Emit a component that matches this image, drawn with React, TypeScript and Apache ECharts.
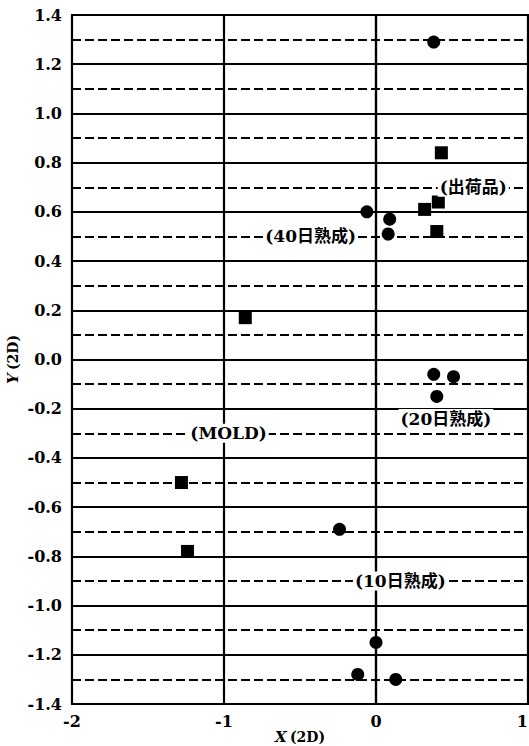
import React, { useEffect, useRef } from "react";
import * as echarts from "echarts";

const circlePoints: number[][] = [
  [0.38, 1.29],
  [-0.06, 0.6],
  [0.09, 0.57],
  [0.08, 0.51],
  [0.38, -0.06],
  [0.51, -0.07],
  [0.4, -0.15],
  [-0.24, -0.69],
  [0.0, -1.15],
  [-0.12, -1.28],
  [0.13, -1.3],
];

const squarePoints: number[][] = [
  [0.43, 0.84],
  [0.41, 0.64],
  [0.32, 0.61],
  [0.4, 0.52],
  [-0.86, 0.17],
  [-1.28, -0.5],
  [-1.24, -0.78],
];

const annotationTexts = ["(40日熟成)", "(出荷品)", "(20日熟成)", "(MOLD)", "(10日熟成)"];
const annotationX = [-0.43, 0.64, 0.46, -0.97, 0.16];
const annotationY = [0.5, 0.7, -0.24, -0.3, -0.9];

const xTicks = [-2, -1, 0, 1];
const yMin = -1.4;
const yMax = 1.4;
const yStep = 0.2;

const FONT = "'DejaVu Serif', 'Noto Sans CJK JP', serif";

export default function App() {
  const ref = useRef<HTMLDivElement>(null);
  useEffect(() => {
    document.body.style.margin = "0";
    if (!ref.current) return;
    const chart = echarts.init(ref.current, null, { renderer: "svg" });
    const labelData = annotationTexts.map((t, i) => ({
      name: t,
      value: [annotationX[i], annotationY[i]],
    }));
    chart.setOption({
      animation: false,
      backgroundColor: "#fff",
      grid: {
        left: 72,
        right: 1,
        top: 15,
        bottom: 42,
        show: true,
        borderColor: "#000",
        borderWidth: 2,
        containLabel: false,
        outerBoundsMode: "none",
      },
      xAxis: {
        type: "value",
        min: xTicks[0],
        max: xTicks[xTicks.length - 1],
        interval: 1,
        axisLine: { show: true, lineStyle: { color: "#000", width: 2.2 } },
        axisTick: { show: false },
        axisLabel: {
          color: "#000",
          fontFamily: FONT,
          fontWeight: "bold",
          fontSize: 16,
          margin: 9,
          alignMaxLabel: "right",
          formatter: (v: number) => String(v),
        },
        splitLine: { show: true, lineStyle: { color: "#000", width: 2.2, type: "solid" } },
        name: "{i|X} {n|(2D)}",
        nameLocation: "middle",
        nameGap: 25,
        nameMoveOverlap: false,
        nameTextStyle: {
          verticalAlign: "top",
          lineHeight: 15,
          rich: {
            i: { fontFamily: FONT, fontWeight: "bold", fontStyle: "italic", fontSize: 15, lineHeight: 15, color: "#000" },
            n: { fontFamily: FONT, fontWeight: "bold", fontSize: 14, lineHeight: 15, color: "#000" },
          },
        },
      },
      yAxis: {
        type: "value",
        min: yMin,
        max: yMax,
        interval: yStep,
        axisLine: { show: true, lineStyle: { color: "#000", width: 2.2 } },
        axisTick: { show: true, length: 6, lineStyle: { color: "#000", width: 2 } },
        axisLabel: {
          color: "#000",
          fontFamily: FONT,
          fontWeight: "bold",
          fontSize: 16,
          margin: 10,
          formatter: (v: number) => v.toFixed(1),
        },
        splitLine: { show: true, lineStyle: { color: "#000", width: 2.2, type: "solid" } },
        minorTick: { show: false, splitNumber: 2 },
        minorSplitLine: { show: true, lineStyle: { color: "#000", width: 2, type: [9, 4] } },
        name: "{i|Y} {n|(2D)}",
        nameLocation: "middle",
        nameGap: 52,
        nameRotate: 90,
        nameMoveOverlap: false,
        nameTextStyle: {
          rich: {
            i: { fontFamily: FONT, fontWeight: "bold", fontStyle: "italic", fontSize: 15, color: "#000" },
            n: { fontFamily: FONT, fontWeight: "bold", fontSize: 14, color: "#000" },
          },
        },
      },
      series: [
        {
          type: "scatter",
          data: labelData,
          symbolSize: 1,
          itemStyle: { color: "rgba(0,0,0,0)", opacity: 1 },
          z: 5,
          label: {
            show: true,
            position: "inside",
            formatter: (p: any) => p.name,
            color: "#000",
            textBorderWidth: 0,
            textBorderColor: "transparent",
            fontFamily: FONT,
            fontWeight: "bold",
            fontSize: 17,
            backgroundColor: "#fff",
            padding: [1, 2],
          },
        },
        {
          type: "scatter",
          data: circlePoints,
          symbol: "circle",
          symbolSize: 13,
          itemStyle: { color: "#000", opacity: 1 },
          z: 3,
        },
        {
          type: "scatter",
          data: squarePoints,
          symbol: "rect",
          symbolSize: 13,
          itemStyle: { color: "#000", opacity: 1 },
          z: 3,
        },
      ],
    });
    return () => chart.dispose();
  }, []);
  return <div ref={ref} style={{ width: 529, height: 746 }} />;
}
